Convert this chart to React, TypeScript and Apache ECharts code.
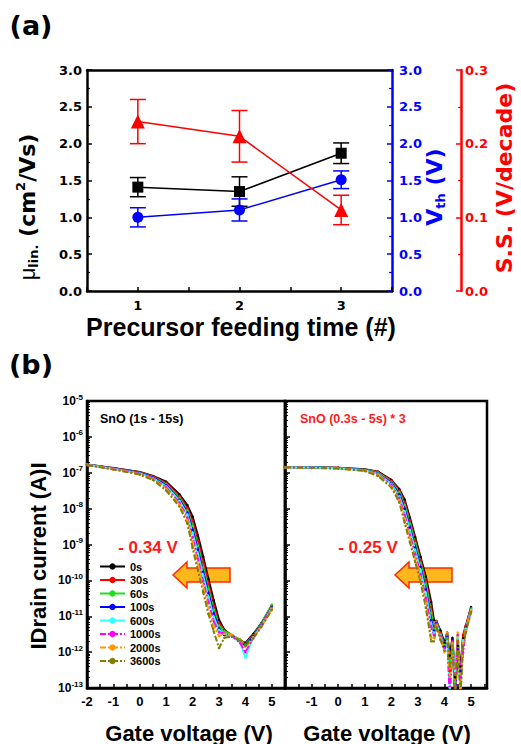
import React, { useEffect, useRef } from "react";
import * as echarts from "echarts";

// ---------- panel (a) data ----------
const FEED_TIME = [1, 2, 3];
const MOBILITY = [1.41, 1.35, 1.87];
const MOBILITY_ERR = [0.13, 0.2, 0.14];
const VTH = [1.0, 1.1, 1.51];
const VTH_ERR = [0.13, 0.15, 0.12];
const SS = [0.23, 0.21, 0.11];
const SS_ERR = [0.03, 0.035, 0.02];

// ---------- panel (b) data ----------
const TIMES = ["0s", "30s", "60s", "100s", "600s", "1000s", "2000s", "3600s"];
const COLORS = ["#000000", "#ff0000", "#22dd22", "#0000ff", "#33ffff", "#ff00ff", "#ff9900", "#808000"];
const DASHED = [false, false, false, false, false, true, true, true];

const LEFT_VG = [-2, -1, 0, 0.5, 1, 1.5, 1.8, 2.0, 2.2, 2.4, 2.6, 2.8, 3.0, 3.2, 3.5, 3.8, 4.0, 4.3, 4.6, 5.0];
const LEFT_I_0S = [1.7e-7, 1.35e-7, 1.05e-7, 8.1e-8, 5.6e-8, 2.5e-8, 1.25e-8, 6e-9, 1.8e-9, 4.6e-10, 1.1e-10, 2.8e-11, 8e-12, 4.2e-12, 2.8e-12, 2.1e-12, 1.8e-12, 3.2e-12, 6.3e-12, 2e-11];
const LEFT_I_30S = [1.7e-7, 1.34e-7, 1.03e-7, 7.9e-8, 5.2e-8, 2.24e-8, 1.06e-8, 4.5e-9, 1.3e-9, 3.3e-10, 8e-11, 2e-11, 6.5e-12, 4.1e-12, 2.9e-12, 2.2e-12, 1.7e-12, 3e-12, 6e-12, 1.9e-11];
const LEFT_I_60S = [1.69e-7, 1.32e-7, 1.0e-7, 7.6e-8, 4.8e-8, 2e-8, 8.9e-9, 3.3e-9, 9.2e-10, 2.3e-10, 5.7e-11, 1.5e-11, 5.5e-12, 3.8e-12, 3e-12, 2.2e-12, 1.6e-12, 2.9e-12, 6.2e-12, 2.1e-11];
const LEFT_I_100S = [1.68e-7, 1.31e-7, 9.8e-8, 7.4e-8, 4.5e-8, 1.8e-8, 7.8e-9, 2.6e-9, 7.2e-10, 1.75e-10, 4.4e-11, 1.2e-11, 4.6e-12, 3e-12, 2.8e-12, 2e-12, 1.5e-12, 2.8e-12, 5.8e-12, 1.8e-11];
const LEFT_I_600S = [1.67e-7, 1.29e-7, 9.6e-8, 7.1e-8, 4.2e-8, 1.66e-8, 6.8e-9, 2.1e-9, 5.6e-10, 1.35e-10, 3.4e-11, 9.5e-12, 4.2e-12, 3.2e-12, 2.7e-12, 1.9e-12, 7e-13, 2.6e-12, 5.5e-12, 1.7e-11];
const LEFT_I_1000S = [1.66e-7, 1.28e-7, 9.4e-8, 6.9e-8, 3.9e-8, 1.48e-8, 5.7e-9, 1.6e-9, 4e-10, 9.6e-11, 2.4e-11, 7.2e-12, 3.6e-12, 3.3e-12, 2.8e-12, 1.8e-12, 1e-12, 2.5e-12, 5.5e-12, 1.7e-11];
const LEFT_I_2000S = [1.65e-7, 1.26e-7, 9.1e-8, 6.6e-8, 3.55e-8, 1.3e-8, 4.8e-9, 1.2e-9, 2.9e-10, 7e-11, 1.7e-11, 5.4e-12, 2.8e-12, 3.2e-12, 3e-12, 2.2e-12, 1.4e-12, 2.6e-12, 5.2e-12, 1.6e-11];
const LEFT_I_3600S = [1.64e-7, 1.23e-7, 8.9e-8, 6.3e-8, 3.2e-8, 1.15e-8, 3.9e-9, 8e-10, 1.9e-10, 4.7e-11, 1.15e-11, 3.8e-12, 1.3e-12, 2.5e-12, 2.7e-12, 2.1e-12, 1.5e-12, 2.4e-12, 5e-12, 1.5e-11];
const LEFT_I = [LEFT_I_0S, LEFT_I_30S, LEFT_I_60S, LEFT_I_100S, LEFT_I_600S, LEFT_I_1000S, LEFT_I_2000S, LEFT_I_3600S];

const RIGHT_VG = [-2, -1, 0, 1, 1.5, 2.0, 2.3, 2.5, 2.7, 2.9, 3.1, 3.3, 3.5, 3.6, 3.7, 3.85, 4.0, 4.1, 4.2, 4.3, 4.4, 4.5, 4.6, 4.7, 4.8, 5.0];
const RIGHT_I_0S = [1.45e-7, 1.42e-7, 1.38e-7, 1.26e-7, 1.07e-7, 6.3e-8, 3.5e-8, 1.8e-8, 5.6e-9, 1.6e-9, 4.5e-10, 1.26e-10, 2.5e-11, 8e-12, 7e-12, 4e-12, 1.8e-12, 3.5e-12, 8e-13, 2.5e-12, 2e-13, 1.5e-12, 4e-13, 2.5e-12, 5e-12, 1.8e-11];
const RIGHT_I_30S = [1.45e-7, 1.41e-7, 1.37e-7, 1.24e-7, 1.05e-7, 6e-8, 3.2e-8, 1.5e-8, 4.7e-9, 1.3e-9, 3.7e-10, 1e-10, 1.8e-11, 5e-12, 7.5e-12, 3.5e-12, 1.5e-12, 3e-12, 3e-13, 2e-12, 8e-14, 2e-12, 2e-13, 3e-12, 5.5e-12, 1.7e-11];
const RIGHT_I_60S = [1.44e-7, 1.4e-7, 1.36e-7, 1.22e-7, 1e-7, 5.6e-8, 2.9e-8, 1.26e-8, 3.8e-9, 1.1e-9, 3e-10, 7.8e-11, 1.26e-11, 4.5e-12, 7e-12, 3.2e-12, 1.6e-12, 2.5e-12, 6e-13, 1e-12, 1.5e-13, 3e-12, 1e-13, 2e-12, 4.5e-12, 1.6e-11];
const RIGHT_I_100S = [1.44e-7, 1.4e-7, 1.35e-7, 1.2e-7, 9.5e-8, 5.2e-8, 2.5e-8, 1e-8, 3e-9, 8.4e-10, 2.4e-10, 5.6e-11, 8e-12, 4e-12, 6.5e-12, 3e-12, 1.4e-12, 2.8e-12, 2e-13, 2.2e-12, 5e-14, 1.2e-12, 3e-13, 1.5e-12, 4e-12, 1.5e-11];
const RIGHT_I_600S = [1.43e-7, 1.39e-7, 1.34e-7, 1.18e-7, 9.3e-8, 4.9e-8, 2.2e-8, 8.4e-9, 2.5e-9, 6.9e-10, 1.95e-10, 4.4e-11, 6.3e-12, 3.5e-12, 6e-12, 3e-12, 1.2e-12, 2e-12, 1e-13, 1.5e-12, 3e-13, 2.5e-12, 8e-14, 2e-12, 4.5e-12, 1.5e-11];
const RIGHT_I_1000S = [1.43e-7, 1.38e-7, 1.33e-7, 1.16e-7, 8.9e-8, 4.6e-8, 2e-8, 6.7e-9, 1.9e-9, 5.4e-10, 1.5e-10, 3.2e-11, 5e-12, 3e-12, 6e-12, 2.8e-12, 1.3e-12, 3e-12, 5e-14, 2e-12, 1e-13, 3e-12, 2e-13, 1e-12, 4e-12, 1.4e-11];
const RIGHT_I_2000S = [1.42e-7, 1.37e-7, 1.32e-7, 1.14e-7, 8.5e-8, 4.2e-8, 1.7e-8, 5.3e-9, 1.5e-9, 4.2e-10, 1.2e-10, 2.3e-11, 2.5e-12, 2.5e-12, 5.5e-12, 2.5e-12, 1e-12, 3.5e-12, 2e-13, 1.8e-12, 6e-14, 3.5e-12, 1e-13, 1.8e-12, 4e-12, 1.4e-11];
const RIGHT_I_3600S = [1.42e-7, 1.36e-7, 1.31e-7, 1.12e-7, 8.1e-8, 3.9e-8, 1.5e-8, 4.1e-9, 1.15e-9, 3.2e-10, 9e-11, 1.7e-11, 2e-12, 2e-12, 5e-12, 2.2e-12, 1.1e-12, 3e-12, 4e-13, 1.5e-12, 1e-13, 2e-12, 5e-14, 1.5e-12, 3.5e-12, 1.3e-11];
const RIGHT_I = [RIGHT_I_0S, RIGHT_I_30S, RIGHT_I_60S, RIGHT_I_100S, RIGHT_I_600S, RIGHT_I_1000S, RIGHT_I_2000S, RIGHT_I_3600S];

const LOG_DECADES = [-13, -12, -11, -10, -9, -8, -7, -6];
const LOG_MINOR_MULT = [2, 3, 4, 5, 6, 7, 8, 9];

const DJ = '"DejaVu Sans", sans-serif';
const AR = '"Liberation Sans", Arial, sans-serif';

function errRender(color: string) {
  return (params: any, api: any) => {
    const x = api.value(0);
    const lo = api.value(1);
    const hi = api.value(2);
    const t = api.coord([x, hi]);
    const b = api.coord([x, lo]);
    const w = 8;
    const style = { stroke: color, lineWidth: 1.5 };
    return {
      type: "group",
      children: [
        { type: "line", shape: { x1: t[0], y1: t[1], x2: b[0], y2: b[1] }, style },
        { type: "line", shape: { x1: t[0] - w, y1: t[1], x2: t[0] + w, y2: t[1] }, style },
        { type: "line", shape: { x1: b[0] - w, y1: b[1], x2: b[0] + w, y2: b[1] }, style },
      ],
    };
  };
}

export default function App() {
  const ref = useRef<HTMLDivElement>(null);
  useEffect(() => {
    if (!ref.current) return;
    const chart = echarts.init(ref.current, undefined, { renderer: "svg" });

    const logMinor: number[] = [];
    LOG_DECADES.forEach((d) => LOG_MINOR_MULT.forEach((m) => logMinor.push(m * Math.pow(10, d))));

    const axA = (color: string) => ({
      axisLine: { show: true, onZero: false, lineStyle: { color, width: 2.5 } },
      axisTick: { show: true, inside: true, length: 5, lineStyle: { color, width: 1.5 } },
      minorTick: { show: true, splitNumber: 2, length: 3, lineStyle: { color, width: 1.2 } },
      splitLine: { show: false },
      axisLabel: { color, fontFamily: DJ, fontWeight: "bold", fontSize: 13 },
    });

    const logLabel = {
      formatter: (v: number) => `10{sup|${Math.round(Math.log10(v))}}`,
      color: "#000",
      fontFamily: AR,
      fontWeight: "bold",
      fontSize: 12,
      lineHeight: 16,
      margin: 4,
      rich: { sup: { fontSize: 8, lineHeight: 8, verticalAlign: "top", fontFamily: AR, fontWeight: "bold", color: "#000" } },
    };

    const xB = (gridIndex: number, max: number, hideFirst: boolean) => ({
      type: "value",
      gridIndex,
      min: -2,
      max,
      interval: 0.5,
      axisLine: { show: true, onZero: false, lineStyle: { color: "#000", width: 2.5 } },
      axisTick: { show: true, inside: true, length: 4, lineStyle: { color: "#000", width: 1.5 } },
      splitLine: { show: false },
      axisLabel: {
        margin: 7,
        color: "#000",
        fontFamily: AR,
        fontWeight: "bold",
        fontSize: 13,
        formatter: (v: number) => (Number.isInteger(v) && !(hideFirst && v === -2) ? String(v) : ""),
      },
    });

    const yLog = (gridIndex: number, showLabel: boolean) => ({
      type: "log",
      gridIndex,
      min: 1e-13,
      max: 1e-5,
      splitNumber: 8,
      position: "left",
      axisLine: { show: true, onZero: false, lineStyle: { color: "#000", width: 2.5 } },
      axisTick: { show: true, inside: true, length: 5, lineStyle: { color: "#000", width: 1.5 } },
      splitLine: { show: false },
      axisLabel: showLabel ? logLabel : { show: false },
    });

    const yLogMinor = (gridIndex: number) => ({
      type: "log",
      gridIndex,
      min: 1e-13,
      max: 1e-5,
      position: "left",
      axisLine: { show: false, onZero: false },
      axisTick: { show: true, inside: true, length: 3, customValues: logMinor, lineStyle: { color: "#000", width: 1 } },
      splitLine: { show: false },
      axisLabel: { show: false },
    });

    const series: any[] = [];
    // panel (a) error bars
    const errData = (vals: number[], errs: number[]) => FEED_TIME.map((x, i) => [x, vals[i] - errs[i], vals[i] + errs[i]]);
    series.push({ type: "custom", xAxisIndex: 0, yAxisIndex: 0, renderItem: errRender("#000"), encode: { x: 0, y: [1, 2] }, data: errData(MOBILITY, MOBILITY_ERR), z: 3 });
    series.push({ type: "custom", xAxisIndex: 0, yAxisIndex: 1, renderItem: errRender("#0000ff"), encode: { x: 0, y: [1, 2] }, data: errData(VTH, VTH_ERR), z: 3 });
    series.push({ type: "custom", xAxisIndex: 0, yAxisIndex: 2, renderItem: errRender("#ff0000"), encode: { x: 0, y: [1, 2] }, data: errData(SS, SS_ERR), z: 3 });
    const lineA = (vals: number[], yi: number, color: string, symbol: string, size: number) => ({
      type: "line",
      xAxisIndex: 0,
      yAxisIndex: yi,
      data: FEED_TIME.map((x, i) => [x, vals[i]]),
      symbol,
      symbolSize: size,
      lineStyle: { color, width: 1.5 },
      itemStyle: { color },
      z: 4,
    });
    series.push(lineA(MOBILITY, 0, "#000", "rect", 11));
    series.push(lineA(VTH, 1, "#0000ff", "circle", 11));
    series.push(lineA(SS, 2, "#ff0000", "triangle", 14));

    // panel (b)
    TIMES.forEach((name, k) => {
      const common = {
        type: "line",
        name,
        symbol: "circle",
        symbolSize: 2.5,
        showSymbol: true,
        lineStyle: { color: COLORS[k], width: 2, type: DASHED[k] ? [6, 2, 2, 2] : "solid" },
        itemStyle: { color: COLORS[k] },
        clip: true,
        z: 3,
      };
      series.push({ ...common, xAxisIndex: 2, yAxisIndex: 3, data: LEFT_VG.map((v, i) => [v, LEFT_I[k][i]]) });
      series.push({ ...common, xAxisIndex: 3, yAxisIndex: 4, data: RIGHT_VG.map((v, i) => [v, RIGHT_I[k][i]]) });
    });

    const txt = (text: string, x: number, y: number, o: any = {}) => ({
      type: "text",
      x,
      y,
      rotation: o.rotation || 0,
      z: 10,
      style: {
        text,
        fill: o.fill || "#000",
        fontFamily: o.fontFamily || AR,
        fontWeight: o.fontWeight || "bold",
        fontSize: o.fontSize || 12,
        lineHeight: o.lineHeight,
        align: o.align || "center",
        verticalAlign: "middle",
        rich: o.rich,
      },
    });

    const arrow = (tipX: number) => ({
      type: "polygon",
      z: 1,
      shape: {
        points: [
          [tipX, 575],
          [tipX + 14, 562],
          [tipX + 14, 568],
          [tipX + 57, 568],
          [tipX + 57, 582],
          [tipX + 14, 582],
          [tipX + 14, 588],
        ],
      },
      style: { fill: "#ffb81c", stroke: "#ff2a00", lineWidth: 1.5 },
    });

    const option: any = {
      animation: false,
      backgroundColor: "#fff",
      grid: [
        { left: 87, top: 70, width: 305, height: 221, show: false },
        { left: 87, top: 401, width: 198, height: 287, show: true, borderColor: "#000", borderWidth: 2.5, backgroundColor: "transparent" },
        { left: 285, top: 401, width: 202, height: 287, show: true, borderColor: "#000", borderWidth: 2.5, backgroundColor: "transparent" },
      ],
      xAxis: [
        {
          type: "value",
          gridIndex: 0,
          min: 0.5,
          max: 3.5,
          interval: 0.5,
          axisLine: { show: true, onZero: false, lineStyle: { color: "#000", width: 2.5 } },
          axisTick: { show: true, inside: true, length: 4, lineStyle: { color: "#000", width: 1.5 } },
          splitLine: { show: false },
          axisLabel: {
            margin: 8,
            color: "#000",
            fontFamily: DJ,
            fontWeight: "bold",
            fontSize: 13,
            formatter: (v: number) => (Number.isInteger(v) ? String(v) : ""),
          },
        },
        {
          type: "value",
          gridIndex: 0,
          position: "top",
          min: 0.5,
          max: 3.5,
          axisLine: { show: true, onZero: false, lineStyle: { color: "#000", width: 2.5 } },
          axisTick: { show: false },
          axisLabel: { show: false },
          splitLine: { show: false },
        },
        xB(1, 5.5, false),
        xB(2, 5.6, true),
      ],
      yAxis: [
        { type: "value", gridIndex: 0, min: 0, max: 3, interval: 0.5, position: "left", ...axA("#000"), axisLabel: { ...axA("#000").axisLabel, margin: 5, formatter: (v: number) => v.toFixed(1) } },
        { type: "value", gridIndex: 0, min: 0, max: 3, interval: 0.5, position: "right", ...axA("#0000ff"), axisLabel: { ...axA("#0000ff").axisLabel, margin: 7, formatter: (v: number) => v.toFixed(1) } },
        { type: "value", gridIndex: 0, min: 0, max: 0.3, interval: 0.1, position: "right", offset: 69, ...axA("#ff0000"), axisLabel: { ...axA("#ff0000").axisLabel, margin: 4, formatter: (v: number) => v.toFixed(1) } },
        yLog(1, true),
        yLog(2, false),
        yLogMinor(1),
        yLogMinor(2),
      ],
      legend: {
        data: TIMES,
        orient: "vertical",
        left: 99,
        top: 561,
        padding: 0,
        itemWidth: 25,
        itemHeight: 8,
        itemGap: 2.5,
        textStyle: { fontFamily: AR, fontWeight: "bold", fontSize: 11, lineHeight: 11, color: "#000" },
      },
      series,
      graphic: [
        txt("(a)", 31, 25, { fontFamily: DJ, fontSize: 27 }),
        txt("(b)", 31, 364, { fontFamily: DJ, fontSize: 27 }),
        txt("Precursor feeding time (#)", 241, 327, { fontSize: 25 }),
        txt("{mu|μ}{sub|lin.} (cm{sup|2}/Vs)", 27, 207, {
          rotation: Math.PI / 2,
          fontFamily: DJ,
          fontSize: 22,
          lineHeight: 26,
          rich: {
            mu: { fontFamily: AR, fontWeight: "normal", fontSize: 22, lineHeight: 26, fill: "#000" },
            sub: { fontFamily: DJ, fontWeight: "bold", fontSize: 13, lineHeight: 12, verticalAlign: "bottom", fill: "#000" },
            sup: { fontFamily: DJ, fontWeight: "bold", fontSize: 13, lineHeight: 10, verticalAlign: "top", fill: "#000" },
          },
        }),
        txt("V{sub|th} (V)", 434, 187, {
          rotation: Math.PI / 2,
          fontFamily: DJ,
          fontSize: 22,
          lineHeight: 26,
          fill: "#0000ff",
          rich: { sub: { fontFamily: DJ, fontWeight: "bold", fontSize: 13, lineHeight: 12, verticalAlign: "bottom", fill: "#0000ff" } },
        }),
        txt("S.S. (V/decade)", 504, 178, { rotation: Math.PI / 2, fontFamily: DJ, fontSize: 22, fill: "#ff0000" }),
        txt("IDrain current (A)I", 38, 556, { rotation: Math.PI / 2, fontSize: 22 }),
        txt("Gate voltage (V)", 189, 733, { fontSize: 22 }),
        txt("Gate voltage (V)", 387, 733, { fontSize: 22 }),
        txt("- 0.34 V", 148, 547, { fontSize: 17, fill: "#ff1a1a" }),
        txt("- 0.25 V", 368, 547, { fontSize: 17, fill: "#ff1a1a" }),
        txt("SnO (1s - 15s)", 100, 419, { fontSize: 12.5, align: "left" }),
        txt("SnO (0.3s - 5s) * 3", 300, 419, { fontSize: 12.5, align: "left", fill: "#ff1a1a" }),
        arrow(173),
        arrow(395),
      ],
    };
    chart.setOption(option);
    return () => chart.dispose();
  }, []);
  return <div ref={ref} style={{ position: "fixed", left: 0, top: 0, width: 521, height: 744 }} />;
}
